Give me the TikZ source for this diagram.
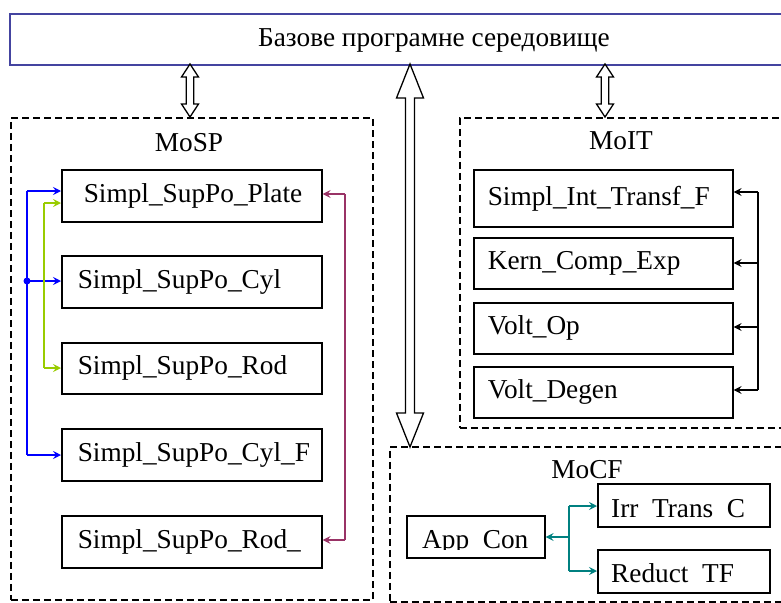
\documentclass[tikz,border=0pt]{standalone}
\usepackage{fontspec}
\setmainfont{Liberation Serif}
\usetikzlibrary{arrows.meta,calc}

\definecolor{frameblue}{RGB}{68,68,160}
\definecolor{linkblue}{RGB}{0,0,255}
\definecolor{linkgreen}{RGB}{153,204,0}
\definecolor{linkpurple}{RGB}{153,51,102}
\definecolor{linkteal}{RGB}{0,128,128}

% hollow double-headed block arrow: x, top y, bottom y, head half-width, shaft half-width, head length
\newcommand\hollowdbl[6]{%
  \draw[line width=1.3pt, line join=miter, fill=white]
    (#1,#2) -- (#1+#4,#2+#6) -- (#1+#5,#2+#6) -- (#1+#5,#3-#6) -- (#1+#4,#3-#6)
    -- (#1,#3) -- (#1-#4,#3-#6) -- (#1-#5,#3-#6) -- (#1-#5,#2+#6) -- (#1-#4,#2+#6) -- cycle;}

\tikzset{
  x=1pt, y=-1pt,
  every node/.style={font=\fontsize{27.3}{32}\selectfont},
  modbox/.style={draw, line width=1.6pt, rectangle, anchor=north west, align=left, inner ysep=0pt},
  groupbox/.style={draw, line width=1.5pt, dash pattern=on 7pt off 4pt, rectangle, anchor=north west, inner sep=0pt},
  wire/.style={line width=1.5pt},
  tip/.style={-{Stealth[length=8pt,width=8pt,inset=3pt]}},
  caption/.style={anchor=base, inner sep=0pt}
}

\begin{document}
\begin{tikzpicture}
\useasboundingbox (0,0) rectangle (781,602);

% base software environment
\node[draw=frameblue, line width=2pt, anchor=north west, minimum width=790pt, minimum height=51pt, inner sep=0pt] (base) at (9,13) {};
\node[caption] (basetxt) at (434,47) {Базове програмне середовище};

% group frames
\node[groupbox, minimum width=362pt, minimum height=482pt] (mosp) at (10,117) {};
\node[groupbox, minimum width=340pt, minimum height=310pt] (moit) at (459,117) {};
\node[groupbox, minimum width=410pt, minimum height=155pt] (mocf) at (389,446) {};
\node[caption] (mosplbl) at (189,151) {MoSP};
\node[caption] (moitlbl) at (621,149) {MoIT};
\node[caption] (mocflbl) at (587,478) {MoCF};

% links between the environment and the groups
\hollowdbl{190}{64}{117}{8.5}{3.8}{13}
\hollowdbl{410}{64}{447}{13.5}{4.5}{34}
\hollowdbl{605}{64}{117}{8.5}{3.8}{13}

% MoSP modules
\tikzset{spbox/.style={modbox, inner xsep=16pt, text width=228pt}}
\node[spbox, minimum height=52pt] (plate) at (61,169) {\hspace*{6pt}Simpl\_SupPo\_Plate};
\node[spbox, minimum height=52pt] (cyl)   at (61,255) {Simpl\_SupPo\_Cyl};
\node[spbox, minimum height=51pt] (rod)   at (61,342) {Simpl\_SupPo\_Rod};
\node[spbox, minimum height=52pt] (cylf)  at (61,428) {Simpl\_SupPo\_Cyl\_F};
\node[spbox, minimum height=52pt] (rodu)  at (61,515) {Simpl\_SupPo\_Rod\_};

\coordinate (b1) at (27,191);
\coordinate (b2) at (27,281);
\coordinate (b3) at (27,455);
\draw[wire, linkblue] (b1) -- (b3);
\draw[wire, linkblue, tip] (b1) -- (plate.west |- b1);
\draw[wire, linkblue, tip] (b2) -- (cyl.west |- b2);
\draw[wire, linkblue, tip] (b3) -- (cylf.west |- b3);
\fill[linkblue] (b2) circle (3.5);

\coordinate (g1) at (44,203);
\coordinate (g2) at (44,368);
\draw[wire, linkgreen] (g1) -- (g2);
\draw[wire, linkgreen, tip] (g1) -- (plate.west |- g1);
\draw[wire, linkgreen, tip] (g2) -- (rod.west |- g2);

\coordinate (p1) at (345,194);
\coordinate (p2) at (345,540);
\draw[wire, linkpurple] (p1) -- (p2);
\draw[wire, linkpurple, tip] (p1) -- (plate.east |- p1);
\draw[wire, linkpurple, tip] (p2) -- (rodu.east |- p2);

% MoIT modules
\tikzset{itbox/.style={modbox, inner xsep=14pt, text width=231pt}}
\node[itbox, minimum height=57pt] (sitf) at (473,169) {Simpl\_Int\_Transf\_F};
\node[itbox, minimum height=51pt] (kce)  at (473,237) {Kern\_Comp\_Exp};
\node[itbox, minimum height=51pt] (vop)  at (473,302) {Volt\_Op};
\node[itbox, minimum height=51pt] (vdg)  at (473,366) {Volt\_Degen};

\coordinate (k1) at (758,192);
\coordinate (k2) at (758,263);
\coordinate (k3) at (758,327);
\coordinate (k4) at (758,390);
\draw[wire] (k1) -- (k4);
\draw[wire, tip] (k1) -- (sitf.east |- k1);
\draw[wire, tip] (k2) -- (kce.east |- k2);
\draw[wire, tip] (k3) -- (vop.east |- k3);
\draw[wire, tip] (k4) -- (vdg.east |- k4);

% MoCF modules (captions cut at the baseline)
\node[modbox, minimum width=138pt, minimum height=42pt] (appcon) at (406,515) {};
\node[modbox, minimum width=172pt, minimum height=43pt] (irr)    at (597,483) {};
\node[modbox, minimum width=172pt, minimum height=43pt] (reduct) at (597,549) {};
\begin{scope}
  \clip (406,515) rectangle (544,549);
  \node[anchor=base west, inner sep=0pt] (appcontxt) at (422,548) {App\_Con};
\end{scope}
\begin{scope}
  \clip (597,483) rectangle (769,518);
  \node[anchor=base west, inner sep=0pt] (irrtxt) at (611,517) {Irr\_Trans\_C};
\end{scope}
\begin{scope}
  \clip (597,549) rectangle (769,583);
  \node[anchor=base west, inner sep=0pt] (reducttxt) at (611,582) {Reduct\_TF};
\end{scope}

\coordinate (t0) at (569,537);
\coordinate (t1) at (569,506);
\coordinate (t2) at (569,571);
\draw[wire, linkteal] (t1) -- (t2);
\draw[wire, linkteal, tip] (t0) -- (appcon.east |- t0);
\draw[wire, linkteal, tip] (t1) -- (irr.west |- t1);
\draw[wire, linkteal, tip] (t2) -- (reduct.west |- t2);
\end{tikzpicture}
\end{document}
